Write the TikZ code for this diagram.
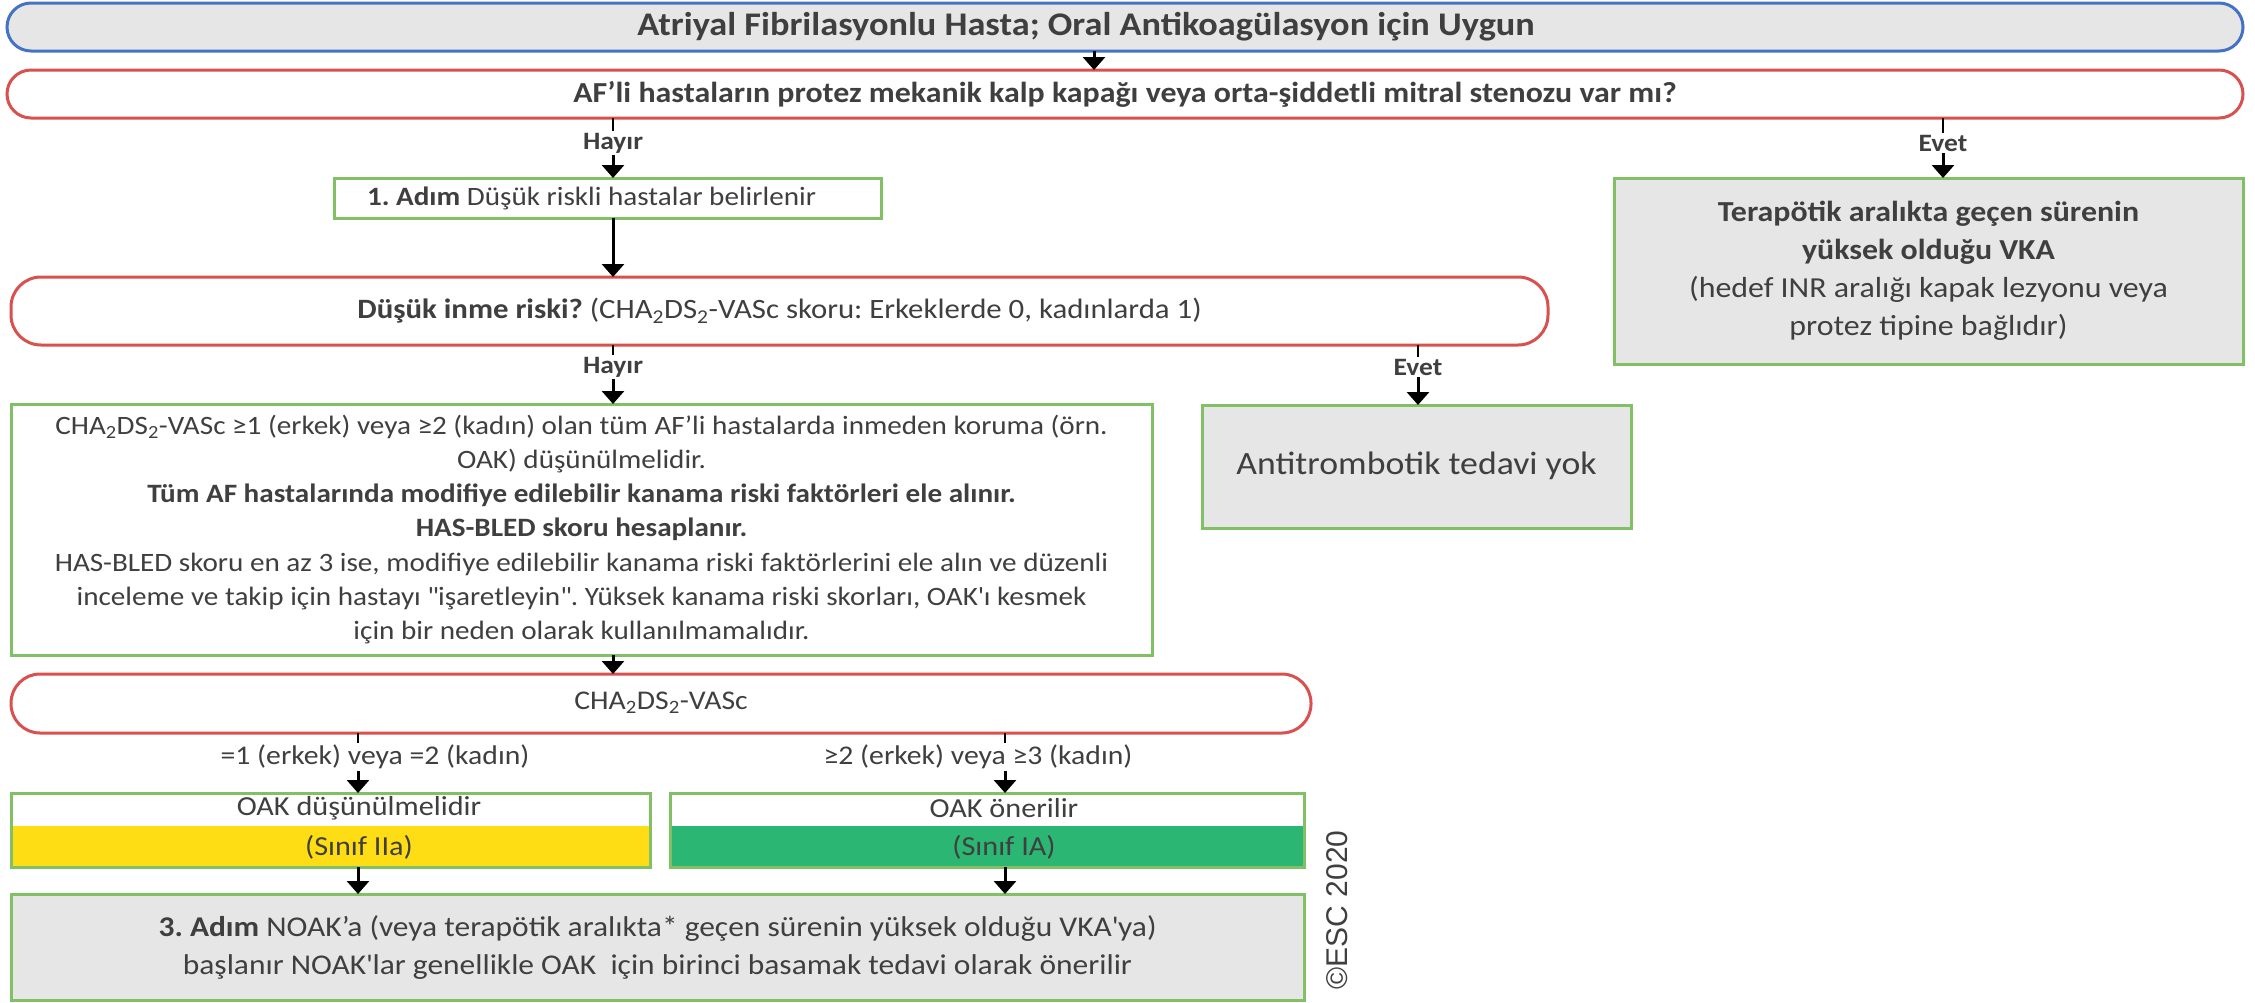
\documentclass[tikz,border=0pt]{standalone}
\usepackage{fontspec}
\setmainfont{Carlito}[FakeStretch=1.1]
\newfontfamily\arialf{Liberation Sans}
\usetikzlibrary{arrows.meta,calc}
\definecolor{bblue}{HTML}{4472C4}
\definecolor{rred}{HTML}{D9514E}
\definecolor{ggreen}{HTML}{82C066}
\definecolor{gfill}{HTML}{E6E6E6}
\definecolor{tgray}{HTML}{3F3F3F}
\definecolor{yel}{HTML}{FFDD15}
\definecolor{grn}{HTML}{2BB673}
\frenchspacing
\begin{document}
\begin{tikzpicture}[x=1pt,y=-1pt,
  txt/.style={font=\fontsize{26.5}{34.2}\selectfont, text=tgray},
  stad/.style={draw, line width=3pt, inner sep=0pt, outer sep=0pt},
  gbox/.style={draw=ggreen, line width=3pt, inner sep=0pt, outer sep=0pt},
  lbl/.style={font=\bfseries\fontsize{25}{27}\selectfont, text=tgray, inner sep=2pt},
  arr/.style={line width=3pt, -{Triangle[width=22pt,length=13pt]}},
  thin/.style={line width=2pt}
]
\useasboundingbox (0,0) rectangle (2255,1002);

% top
\node[stad, draw=bblue, fill=gfill, rounded corners=24pt, minimum width=2236, minimum height=48, text=tgray, font=\bfseries\fontsize{33}{36}\selectfont] (top) at (1125,27) {Atriyal Fibrilasyonlu Hasta; Oral Antikoagülasyon için Uygun\hspace*{78pt}};
\node[stad, draw=rred, fill=white, rounded corners=24pt, minimum width=2236, minimum height=48, text=tgray, font=\bfseries\fontsize{29}{34}\selectfont] (q1) at (1125,94) {AF’li hastaların protez mekanik kalp kapağı veya orta-şiddetli mitral stenozu var mı?};
\coordinate (c1) at (1094,0);
\draw[arr] (top.south -| c1) -- (q1.north -| c1);

\node[lbl] (h1) at (613,143) {Hayır};
\node[lbl] (e1) at (1943,143) {Evet};

\node[gbox, fill=white, minimum width=547, minimum height=40, txt, inner xsep=33pt] (s1) at (607.5,198) {\makebox[481pt][l]{\textbf{1. Adım} Düşük riskli hastalar belirlenir}};

\node[gbox, fill=gfill, minimum width=629, minimum height=186, text=tgray, font=\fontsize{29}{38}\selectfont, align=center] (vka) at (1928.5,271) {\textbf{Terapötik aralıkta geçen sürenin}\\ \textbf{yüksek olduğu VKA}\\ (hedef INR aralığı kapak lezyonu veya\\ protez tipine bağlıdır)};

\draw[thin] (q1.south -| h1) -- (h1.north);
\draw[arr] (h1.south) -- (s1.north -| h1);
\draw[thin] (q1.south -| e1) -- (e1.north);
\draw[arr] (e1.south) -- (vka.north -| e1);

\node[stad, draw=rred, fill=white, rounded corners=30pt, minimum width=1537, minimum height=68, text=tgray, font=\fontsize{28}{34}\selectfont] (q2) at (779.5,311) {\raisebox{3pt}{\textbf{Düşük inme riski?} (CHA\textsubscript{2}DS\textsubscript{2}-VASc skoru: Erkeklerde 0, kadınlarda 1)}};
\draw[arr] (s1.south -| h1) -- (q2.north -| h1);

\node[lbl] (h2) at (613,367) {Hayır};
\node[lbl] (e2) at (1418,367) {Evet};

\node[gbox, fill=white, minimum width=1141, minimum height=251, txt, align=center] (b4) at (581.5,529.5) {CHA\textsubscript{2}DS\textsubscript{2}-VASc ≥1 (erkek) veya ≥2 (kadın) olan tüm AF’li hastalarda inmeden koruma (örn.\\ OAK) düşünülmelidir.\\ \textbf{Tüm AF hastalarında modifiye edilebilir kanama riski faktörleri ele alınır.}\\ \textbf{HAS-BLED skoru hesaplanır.}\\ HAS-BLED skoru en az 3 ise, modifiye edilebilir kanama riski faktörlerini ele alın ve düzenli\\ inceleme ve takip için hastayı \textquotedbl işaretleyin\textquotedbl. Yüksek kanama riski skorları, OAK\textquotesingle ı kesmek\\ için bir neden olarak kullanılmamalıdır.};

\node[gbox, fill=gfill, minimum width=429, minimum height=123, text=tgray, font=\fontsize{32.5}{40}\selectfont] (anti) at (1416.5,466.5) {\raisebox{6pt}{Antitrombotik tedavi yok}};

\draw[thin] (q2.south -| h2) -- (h2.north);
\draw[arr] (h2.south) -- (b4.north -| h2);
\draw[thin] (q2.south -| e2) -- (e2.north);
\draw[arr] (e2.south) -- (anti.north -| e2);

\node[stad, draw=rred, fill=white, rounded corners=29pt, minimum width=1300, minimum height=59, text=tgray, font=\fontsize{27}{34}\selectfont] (q3) at (661,703.5) {\raisebox{6pt}{CHA\textsubscript{2}DS\textsubscript{2}-VASc}};
\draw[arr] (b4.south -| h2) -- (q3.north -| h2);

\node[text=tgray, font=\fontsize{27}{34}\selectfont, inner sep=2pt] (l1) at (375,757) {=1 (erkek) veya =2 (kadın)};
\node[text=tgray, font=\fontsize{27}{34}\selectfont, inner sep=2pt] (l2) at (978,757) {≥2 (erkek) veya ≥3 (kadın)};
\coordinate (ca) at (358,0);
\coordinate (cb) at (1005,0);

% OAK boxes
\node[gbox, fill=white, minimum width=639, minimum height=74] (o1) at (330.5,830) {};
\fill[yel] (o1.south west) rectangle ([yshift=4pt]o1.east);
\draw[ggreen, line width=3pt] (o1.south west) rectangle (o1.north east);
\node[gbox, fill=white, minimum width=634, minimum height=74] (o2) at (987,830) {};
\fill[grn] (o2.south west) rectangle ([yshift=4pt]o2.east);
\draw[ggreen, line width=3pt] (o2.south west) rectangle (o2.north east);
\node[text=tgray, font=\fontsize{27.5}{34}\selectfont] (o1t) at (359,808) {OAK düşünülmelidir};
\node[text=tgray, font=\fontsize{27.5}{34}\selectfont] (o1c) at (359,847) {(Sınıf IIa)};
\node[text=tgray, font=\fontsize{27.5}{34}\selectfont] (o2t) at (1004,808) {OAK önerilir};
\node[text=tgray, font=\fontsize{27.5}{34}\selectfont] (o2c) at (1004,847) {(Sınıf IA)};

\draw[thin] (q3.south -| ca) -- (l1.north -| ca);
\draw[arr] (l1.south -| ca) -- (o1.north -| ca);
\draw[thin] (q3.south -| cb) -- (l2.north -| cb);
\draw[arr] (l2.south -| cb) -- (o2.north -| cb);

\node[gbox, fill=gfill, minimum width=1293, minimum height=106, text=tgray, font=\fontsize{28.6}{38}\selectfont, align=center] (b6) at (657.5,947) {\textbf{3. Adım} NOAK’a (veya terapötik aralıkta* geçen sürenin yüksek olduğu VKA\textquotesingle ya)\\ başlanır NOAK\textquotesingle lar genellikle OAK\ \ için birinci basamak tedavi olarak önerilir};
\draw[arr] (o1.south -| ca) -- (b6.north -| ca);
\draw[arr] (o2.south -| cb) -- (b6.north -| cb);

\node[rotate=90, font=\arialf\fontsize{30}{32}\selectfont, text=tgray] (esc) at (1337,910) {©ESC 2020};
\end{tikzpicture}
\end{document}
